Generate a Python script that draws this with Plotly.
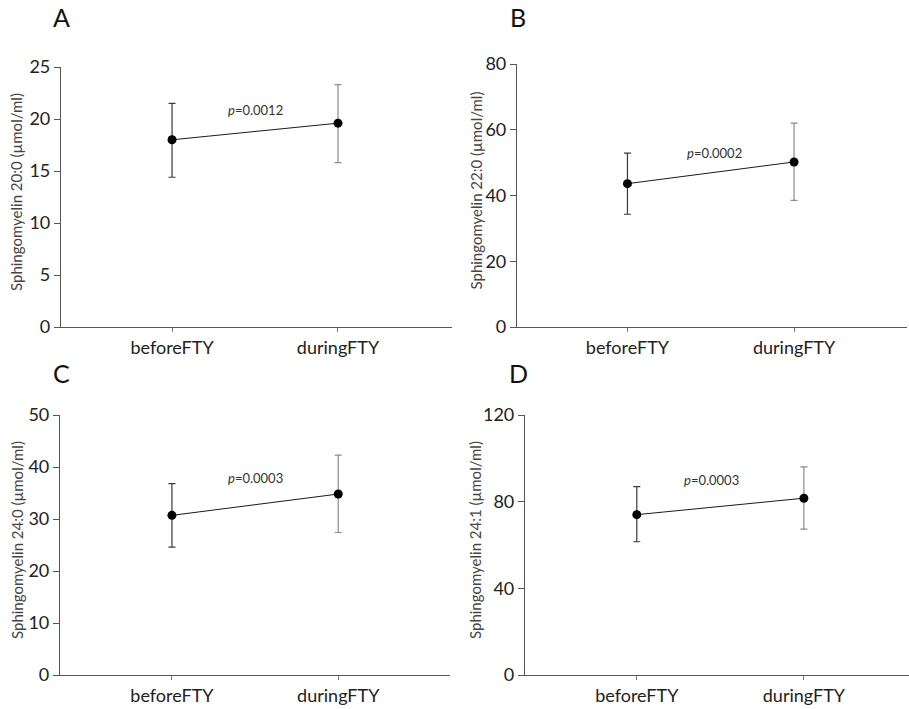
import plotly.graph_objects as go

# Sphingomyelin species measured before and during fingolimod (FTY) treatment
conditions = ["beforeFTY", "duringFTY"]

panel_letters = ["A", "B", "C", "D"]
species = ["20:0", "22:0", "24:0", "24:1"]

means = [
    [18.0, 19.6],
    [43.6, 50.2],
    [30.7, 34.8],
    [74.0, 81.6],
]
upper_err = [
    [3.5, 3.7],
    [9.3, 11.8],
    [6.1, 7.5],
    [12.9, 14.5],
]
lower_err = [
    [3.6, 3.8],
    [9.3, 11.7],
    [6.1, 7.4],
    [12.5, 14.3],
]
p_values = ["0.0012", "0.0002", "0.0003", "0.0003"]

y_max = [25, 80, 50, 120]
y_dtick = [5, 20, 10, 40]

W, H = 909, 709
FONT = "Lato"

# panel frames in pixels: x-axis left/right, y-axis top/bottom, category x-range
frames = [
    dict(x0=61, x1=452, y0=67, y1=327, xr=[-0.669, 1.687]),
    dict(x0=517, x1=907, y0=64, y1=327, xr=[-0.663, 1.678]),
    dict(x0=60, x1=450, y0=415, y1=675, xr=[-0.673, 1.672]),
    dict(x0=525, x1=909, y0=415, y1=675, xr=[-0.669, 1.629]),
]
# p label anchor (category position, data y), letter position, title offset
p_pos = [(0.50, 20.9), (0.52, 52.9), (0.50, 37.8), (0.45, 90.1)]
letter_px = [(61, 17), (518, 17), (61, 373), (518, 373)]
title_off = [45, 42, 43, 50]

fig = go.Figure()
annotations = []

for i in range(4):
    fr = frames[i]
    n = "" if i == 0 else str(i + 1)
    xa, ya = "x" + n, "y" + n
    xnum = [0, 1]

    # connecting line between the two means
    fig.add_trace(go.Scatter(
        x=xnum, y=means[i], mode="lines",
        line=dict(color="#1a1a1a", width=1),
        xaxis=xa, yaxis=ya, showlegend=False, hoverinfo="skip"))

    # mean markers with error bars: before (dark) and during (grey)
    for j, col in enumerate(["#3a3a3a", "#8c8c8c"]):
        fig.add_trace(go.Scatter(
            x=[xnum[j]], y=[means[i][j]], mode="markers",
            marker=dict(color="black", size=9),
            error_y=dict(type="data", symmetric=False,
                         array=[upper_err[i][j]], arrayminus=[lower_err[i][j]],
                         color=col, thickness=1.2, width=3.5),
            xaxis=xa, yaxis=ya, showlegend=False,
            hovertemplate=conditions[j] + ": %{y}<extra></extra>"))

    fig.update_layout({
        "xaxis" + n: dict(
            domain=[fr["x0"] / W, fr["x1"] / W],
            anchor=ya, range=fr["xr"], automargin=False,
            tickmode="array", tickvals=xnum, ticktext=conditions,
            showline=True, linecolor="#555555", linewidth=1.2,
            ticks="outside", ticklen=4, tickcolor="#777777", tickwidth=1,
            showgrid=False, zeroline=False, fixedrange=True,
            tickfont=dict(family=FONT, size=18, color="#222222"),
        ),
        "yaxis" + n: dict(
            domain=[(H - fr["y1"]) / H, (H - fr["y0"]) / H],
            anchor=xa, range=[0, y_max[i]], automargin=False,
            tickmode="linear", tick0=0, dtick=y_dtick[i],
            showline=True, linecolor="#555555", linewidth=1.2,
            ticks="outside", ticklen=6, tickcolor="#555555", tickwidth=1,
            showgrid=False, zeroline=False, fixedrange=True,
            tickfont=dict(family=FONT, size=18, color="#222222"),
        ),
    })

    # y-axis title
    annotations.append(dict(
        text="Sphingomyelin " + species[i] + " (µmol/ml)",
        xref="paper", yref="paper",
        x=(fr["x0"] - title_off[i]) / W,
        y=(H - (fr["y0"] + fr["y1"]) / 2 + 5) / H,
        textangle=-90, showarrow=False, xanchor="center", yanchor="middle",
        font=dict(family=FONT, size=15, color="#444444")))

    # p-value label
    annotations.append(dict(
        text="<i>p</i>=" + p_values[i],
        xref=xa, yref=ya, x=p_pos[i][0], y=p_pos[i][1],
        showarrow=False, xanchor="center", yanchor="middle",
        font=dict(family=FONT, size=13, color="#333333")))

    # panel letter
    annotations.append(dict(
        text=panel_letters[i], xref="paper", yref="paper",
        x=letter_px[i][0] / W, y=(H - letter_px[i][1]) / H,
        showarrow=False, xanchor="center", yanchor="middle",
        font=dict(family=FONT, size=25, color="#111111")))

fig.update_layout(
    template="none",
    width=W, height=H,
    margin=dict(l=0, r=0, t=0, b=0, pad=0),
    paper_bgcolor="white", plot_bgcolor="white",
    annotations=annotations,
    showlegend=False,
)

fig.write_html("out.html")
